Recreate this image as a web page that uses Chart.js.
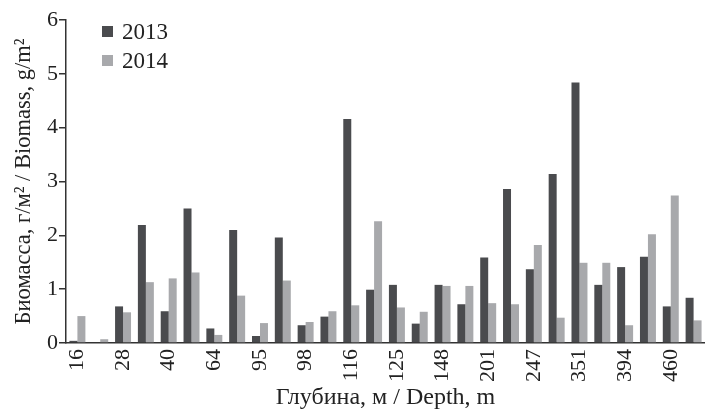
<!DOCTYPE html>
<html>
<head>
<meta charset="utf-8">
<script src="https://cdn.jsdelivr.net/npm/chart.js@4"></script>
<style>
    html, body { margin: 0; padding: 0; background: #fff; }
    .wrap { width: 705px; height: 412px; }
</style>
</head>
<body>
<div class="wrap"><canvas class="biomassChart" width="705" height="412"></canvas></div>
<script>
// Depth labels (only every other station is labelled on the axis)
const depths = ['16', '', '28', '', '40', '', '64', '', '95', '', '98', '', '116', '',
    '125', '', '148', '', '201', '', '247', '', '351', '', '394', '', '460', ''];

// Biomass, g/m2
const biomass2013 = [0.04, 0, 0.68, 2.19, 0.59, 2.5, 0.27, 2.1, 0.13, 1.96, 0.33, 0.49, 4.16, 0.99,
    1.08, 0.36, 1.08, 0.72, 1.59, 2.86, 1.37, 3.14, 4.84, 1.08, 1.41, 1.6, 0.68, 0.84];
const biomass2014 = [0.5, 0.07, 0.57, 1.13, 1.2, 1.31, 0.15, 0.88, 0.37, 1.16, 0.39, 0.59, 0.7, 2.26,
    0.66, 0.58, 1.06, 1.06, 0.74, 0.72, 1.82, 0.47, 1.49, 1.49, 0.33, 2.02, 2.74, 0.42];

const yTicks = [0, 1, 2, 3, 4, 5, 6];

const serif = "'Liberation Serif', 'DejaVu Serif', serif";
const axisColor = '#333';

// legend drawn inside the plot, top left
const innerLegend = {
    id: 'innerLegend',
    afterDraw(chart) {
        const ctx = chart.ctx;
        const x = chart.chartArea.left + 36;
        let y = chart.chartArea.top + 12;
        ctx.save();
        ctx.font = '23px ' + serif;
        ctx.textBaseline = 'middle';
        chart.data.datasets.forEach(ds => {
            ctx.fillStyle = ds.backgroundColor;
            ctx.fillRect(x, y - 6, 11, 11);
            ctx.fillStyle = '#222';
            ctx.fillText(ds.label, x + 20, y + 1);
            y += 29;
        });
        ctx.restore();
    }
};

const ctx = document.querySelector('.biomassChart').getContext('2d');
new Chart(ctx, {
    type: 'bar',
    data: {
        labels: depths,
        datasets: [{
            label: '2013',
            data: biomass2013,
            backgroundColor: '#4a4b4e',
            barPercentage: 1,
            categoryPercentage: 0.7,
        }, {
            label: '2014',
            data: biomass2014,
            backgroundColor: '#a8a9ac',
            barPercentage: 1,
            categoryPercentage: 0.7,
        }]
    },
    options: {
        responsive: false,
        animation: false,
        layout: { padding: { top: 20, right: 0, left: 2, bottom: 0 } },
        scales: {
            x: {
                afterFit: (axis) => {
                    axis.paddingLeft = 0;
                    axis.paddingRight = 0;
                    axis.height = 69;
                },
                grid: { display: false, drawTicks: false },
                border: { color: axisColor, width: 1.5 },
                ticks: {
                    autoSkip: false,
                    minRotation: 90,
                    maxRotation: 90,
                    padding: 6,
                    color: '#222',
                    font: { family: serif, size: 22 }
                },
                title: {
                    display: true,
                    text: 'Глубина, м / Depth, m',
                    color: '#222',
                    padding: { top: 0, bottom: 0 },
                    font: { family: serif, size: 24 }
                }
            },
            y: {
                min: 0,
                max: 6,
                afterBuildTicks: (axis) => {
                    axis.ticks = yTicks.map(v => ({ value: v }));
                },
                afterFit: (axis) => {
                    axis.paddingTop = 0;
                    axis.paddingBottom = 0;
                    axis.width = 64;
                },
                grid: { drawOnChartArea: false, tickLength: 7, color: axisColor, lineWidth: 1.5 },
                border: { color: axisColor, width: 1.5 },
                ticks: {
                    padding: 1,
                    color: '#222',
                    font: { family: serif, size: 22 }
                },
                title: {
                    display: true,
                    text: 'Биомасса, г/м² / Biomass, g/m²',
                    color: '#222',
                    padding: { top: 9, bottom: 0 },
                    font: { family: serif, size: 22.5 }
                }
            }
        },
        plugins: {
            legend: { display: false },
            tooltip: { enabled: false }
        }
    },
    plugins: [innerLegend]
});
</script>
</body>
</html>
